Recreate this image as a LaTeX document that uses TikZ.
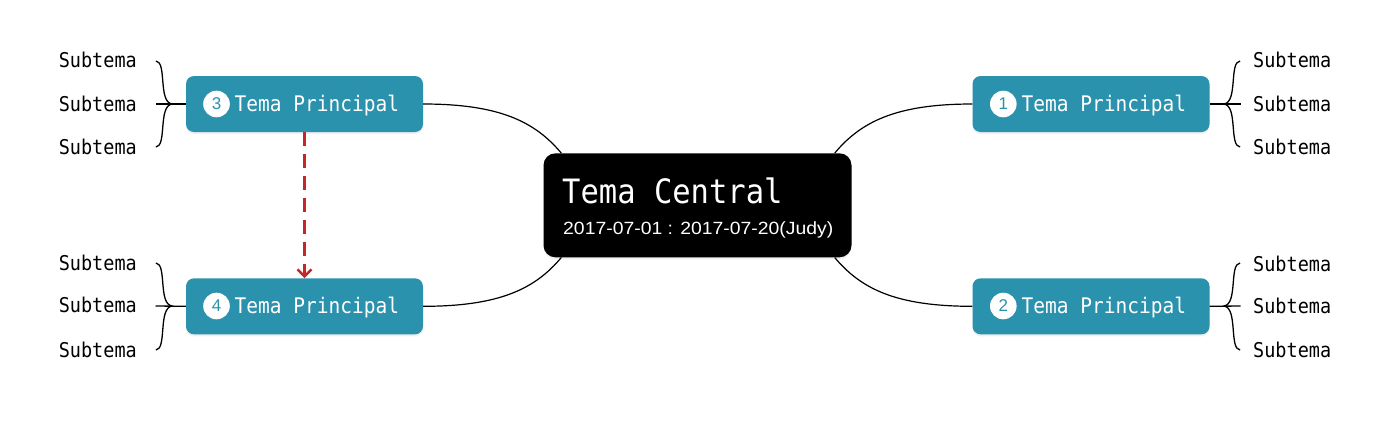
\documentclass[tikz,border=0pt]{standalone}
\usepackage{fontspec}
\usetikzlibrary{arrows.meta,shadows,calc}
\newfontfamily\monof{DejaVu Sans Mono}
\newfontfamily\sansf{Liberation Sans}
\definecolor{topicteal}{RGB}{43,146,173}
\definecolor{linkred}{RGB}{198,38,40}
\newcommand{\tallx}[1]{\scalebox{1}[1.1]{#1}}
\begin{document}
\begin{tikzpicture}[x=1bp,y=-1bp,
  topic/.style={fill=topicteal, rounded corners=8bp, minimum width=237bp, minimum height=56bp, inner sep=0pt,
    drop shadow={opacity=0.12, shadow xshift=0bp, shadow yshift=-2bp}},
  central/.style={fill=black, rounded corners=12bp, minimum width=308bp, minimum height=104bp, inner sep=0pt,
    drop shadow={opacity=0.12, shadow xshift=0bp, shadow yshift=-2bp}},
  numcirc/.style={circle, fill=white, minimum size=26.6bp, inner sep=0pt, text=topicteal,
    font=\sansf\fontsize{17bp}{17bp}\selectfont},
  ptext/.style={anchor=base west, inner sep=0pt, text=white, font=\monof\fontsize{19.5bp}{20bp}\selectfont},
  subl/.style={anchor=base east, inner sep=0pt, text=black, font=\monof\fontsize{18.5bp}{19bp}\selectfont},
  subr/.style={anchor=base west, inner sep=0pt, text=black, font=\monof\fontsize{18.5bp}{19bp}\selectfont},
  conn/.style={draw=black, line width=1.2bp},
  brace/.style={draw=black, line width=1.3bp},
  linkarrow/.style={draw=linkred, line width=2.5bp, dash pattern=on 14bp off 8bp,
    -{Straight Barb[length=7bp,width=14bp,line width=2.5bp]}}
]
\useasboundingbox (0,0) rectangle (1396,426);

% central topic
\node[central] (c) at (697.5,205.3) {};
\node[anchor=base west, inner sep=0pt, text=white, font=\monof\fontsize{30.5bp}{31bp}\selectfont] (ctitle) at (562,203.3) {\tallx{Tema Central}};
\node[anchor=base west, inner sep=0pt, text=white, font=\sansf\fontsize{17bp}{17bp}\selectfont] (cdate) at (563,234.5) {\scalebox{1.14}[1.04]{2017-07-01 : 2017-07-20(Judy)}};

% main topics
\node[topic] (t3) at (304.5,104) {};
\node[topic] (t4) at (304.5,306.3) {};
\node[topic] (t1) at (1091,104) {};
\node[topic] (t2) at (1091,306.3) {};

\node[numcirc] (n3) at (216.5,104) {3};
\node[numcirc] (n4) at (216.5,306) {4};
\node[numcirc] (n1) at (1003.3,104) {1};
\node[numcirc] (n2) at (1003.3,306) {2};

\node[ptext] (p3) at (234.5,111) {\tallx{Tema Principal}};
\node[ptext] (p4) at (234.5,313.5) {\tallx{Tema Principal}};
\node[ptext] (p1) at (1021.5,111) {\tallx{Tema Principal}};
\node[ptext] (p2) at (1021.5,313.5) {\tallx{Tema Principal}};

% connection points on central box
\coordinate (c3) at ($(c.north west)+(18,0)$);
\coordinate (c1) at ($(c.north east)+(-17,0)$);
\coordinate (c4) at ($(c.south west)+(18,0)$);
\coordinate (c2) at ($(c.south east)+(-17,0)$);

\draw[conn] (t3.east) .. controls +(77,0) and +(-26,-31) .. (c3);
\draw[conn] (t4.east) .. controls +(77,0) and +(-26,31) .. (c4);
\draw[conn] (t1.west) .. controls +(-77,0) and +(26,-31) .. (c1);
\draw[conn] (t2.west) .. controls +(-77,0) and +(26,31) .. (c2);

% subtopics
\node[subl] (s31) at (137,67) {\tallx{Subtema}};
\node[subl] (s32) at (137,111) {\tallx{Subtema}};
\node[subl] (s33) at (137,154.5) {\tallx{Subtema}};
\node[subl] (s41) at (137,270.5) {\tallx{Subtema}};
\node[subl] (s42) at (137,312.7) {\tallx{Subtema}};
\node[subl] (s43) at (137,357.5) {\tallx{Subtema}};
\node[subr] (s11) at (1253,67) {\tallx{Subtema}};
\node[subr] (s12) at (1253,111) {\tallx{Subtema}};
\node[subr] (s13) at (1253,154.5) {\tallx{Subtema}};
\node[subr] (s21) at (1253,271) {\tallx{Subtema}};
\node[subr] (s22) at (1253,313) {\tallx{Subtema}};
\node[subr] (s23) at (1253,357.5) {\tallx{Subtema}};

% braces left
\coordinate (j3) at (172,104);
\coordinate (m3) at (155.5,104);
\coordinate (a3) at (156,61);
\coordinate (b3) at (156,147);
\draw[brace] (t3.west) -- (m3);
\draw[brace] (a3) .. controls (167,62) and (158,102) .. (j3) .. controls (158,106) and (167,146) .. (b3);

\coordinate (j4) at (172,306);
\coordinate (m4) at (155.5,306);
\coordinate (a4) at (156,263);
\coordinate (b4) at (156,350);
\draw[brace] (t4.west) -- (m4);
\draw[brace] (a4) .. controls (167,264) and (158,304) .. (j4) .. controls (158,308) and (167,349) .. (b4);

% braces right
\coordinate (j1) at (1224,104);
\coordinate (m1) at (1240.5,104);
\coordinate (a1) at (1240,61);
\coordinate (b1) at (1240,147);
\draw[brace] (t1.east) -- (m1);
\draw[brace] (a1) .. controls (1229,62) and (1238,102) .. (j1) .. controls (1238,106) and (1229,146) .. (b1);

\coordinate (j2) at (1224,306);
\coordinate (m2) at (1240.5,306);
\coordinate (a2) at (1240,263);
\coordinate (b2) at (1240,350);
\draw[brace] (t2.east) -- (m2);
\draw[brace] (a2) .. controls (1229,264) and (1238,304) .. (j2) .. controls (1238,308) and (1229,349) .. (b2);

% dashed relation arrow
\draw[linkarrow] (t3.south) -- (t4.north);
\end{tikzpicture}
\end{document}
